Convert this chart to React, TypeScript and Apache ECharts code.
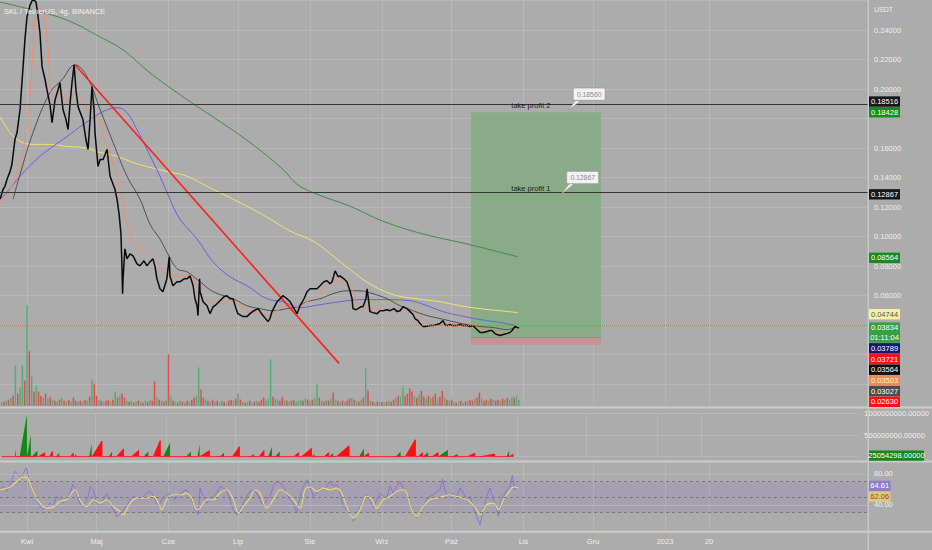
import React, { useEffect, useRef } from "react";
import * as echarts from "echarts";

// ---------- axis / time data (days from 1 Apr 2022) ----------
const dayRange = [-11.64, 362.5];
const monthDays = [0, 30, 61, 91, 122, 153, 183, 214, 244, 275, 294];
const monthLabels = ["Kwi", "Maj", "Cze", "Lip", "Sie", "Wrz", "Paź", "Lis", "Gru", "2023", "20"];
const hiddenPriceLabels = [0.18];

// ---------- price (close) ----------
const closePrice: [number, number][] = [
  [-11.6, 0.1254], [-10.3, 0.1321], [-9.5, 0.1341], [-8.6, 0.1389], [-7.3, 0.1442], [-6.5, 0.149], [-5.2, 0.1658], [-4.3, 0.1705],
  [-3.0, 0.1861], [-1.7, 0.215], [-0.9, 0.2333], [0, 0.2488], [1.3, 0.2569], [2.6, 0.261], [3.9, 0.2589], [4.7, 0.2501],
  [5.6, 0.238], [6.5, 0.215], [7.8, 0.2063], [8.6, 0.1995], [9.9, 0.1894], [10.8, 0.1773], [12.1, 0.1928], [13.4, 0.1995],
  [14.2, 0.2043], [15.5, 0.1861], [16.8, 0.1793], [17.7, 0.1726], [18.5, 0.1894], [19.4, 0.2043], [20.3, 0.2164], [21.1, 0.1995],
  [22.0, 0.1881], [22.8, 0.1847], [24.1, 0.1793], [25.4, 0.1658], [26.3, 0.1591], [27.2, 0.1793], [28.0, 0.2016], [28.9, 0.1861],
  [29.3, 0.1705], [30.6, 0.1476], [31.5, 0.1523], [32.8, 0.1523], [34.5, 0.1591], [35.8, 0.1409], [37.1, 0.1355], [37.9, 0.1321],
  [38.8, 0.1254], [39.7, 0.1152], [40.5, 0.1018], [40.9, 0.0815], [41.2, 0.0613], [41.4, 0.0714], [42.2, 0.0917], [43.1, 0.0849],
  [44.4, 0.0883], [45.7, 0.0869], [47.4, 0.0815], [48.7, 0.0802], [50.4, 0.0836], [51.7, 0.0802], [53.0, 0.0829], [54.3, 0.0849],
  [55.2, 0.0795], [56.0, 0.0714], [57.3, 0.0647], [58.6, 0.0627], [60.3, 0.0714], [61.3, 0.0863], [61.6, 0.0734], [62.9, 0.0667],
  [64.7, 0.0694], [65.9, 0.0694], [67.7, 0.0714], [69.0, 0.0714], [70.3, 0.0734], [71.6, 0.0667], [72.4, 0.0579], [73.3, 0.0532],
  [73.7, 0.0465], [74.4, 0.0714], [74.6, 0.0627], [75.9, 0.0559], [77.6, 0.0532], [78.9, 0.0478], [80.2, 0.0525], [81.0, 0.0532],
  [83.2, 0.0566], [84.9, 0.0593], [86.2, 0.06], [87.5, 0.0579], [88.8, 0.0579], [90.1, 0.0512], [90.9, 0.0478], [93.1, 0.0458],
  [94.8, 0.0458], [96.1, 0.0478], [97.8, 0.0498], [99.6, 0.0512], [101.7, 0.0465], [103.9, 0.0424], [104.7, 0.0445], [105.6, 0.0492],
  [107.8, 0.0559], [109.1, 0.0579], [110.3, 0.06], [112.1, 0.0579], [113.4, 0.0559], [115.1, 0.0512], [116.4, 0.0478], [117.7, 0.0532],
  [119.4, 0.0579], [120.7, 0.0627], [122.0, 0.0647], [123.3, 0.0647], [125.0, 0.0647], [126.3, 0.0667], [128.0, 0.0694], [129.3, 0.0701],
  [130.6, 0.0681], [131.5, 0.0694], [132.8, 0.0768], [134.1, 0.0728], [134.9, 0.0734], [136.6, 0.0714], [137.9, 0.0694], [139.2, 0.0633],
  [140.1, 0.0579], [140.5, 0.0512], [141.8, 0.0505], [142.7, 0.0512], [144.0, 0.0525], [144.8, 0.0525], [146.1, 0.0579], [146.6, 0.0647],
  [147.4, 0.0546], [147.8, 0.0492], [149.1, 0.0485], [150.9, 0.0478], [152.2, 0.0498], [153.4, 0.0498], [155.2, 0.0505], [156.5, 0.0498],
  [158.2, 0.0512], [159.5, 0.0492], [160.8, 0.0498], [162.1, 0.0525], [163.8, 0.0512], [165.1, 0.0492], [166.4, 0.0472], [167.2, 0.0445],
  [168.5, 0.0431], [169.4, 0.0411], [170.7, 0.0391], [171.6, 0.0391], [173.7, 0.0397], [175.0, 0.0397], [176.7, 0.0404], [178.0, 0.0411],
  [179.3, 0.0431], [180.2, 0.0404], [181.0, 0.0397], [182.3, 0.0404], [183.6, 0.0397], [185.3, 0.0397], [186.6, 0.0404], [187.9, 0.0397],
  [189.7, 0.0397], [190.9, 0.0391], [192.2, 0.0397], [193.5, 0.0377], [195.3, 0.035], [196.6, 0.035], [198.3, 0.0357], [199.6, 0.0364],
  [200.4, 0.0364], [201.7, 0.0343], [202.6, 0.0337], [203.9, 0.033], [205.2, 0.0337], [206.9, 0.0343], [208.2, 0.035], [209.1, 0.0364],
  [210.3, 0.0391], [211.2, 0.0384], [212.1, 0.0383],
];

// ---------- moving averages ----------
const emaOrange: [number, number][] = [
  [-11.6, 0.124], [-9.5, 0.1254], [-7.3, 0.1321], [-3.0, 0.1476], [0, 0.1746], [2.2, 0.215], [3.4, 0.2467], [5.6, 0.2555],
  [7.8, 0.2467], [9.1, 0.2265], [9.9, 0.2043], [11.2, 0.1948], [14.2, 0.1975], [17.2, 0.1928], [19.4, 0.1948], [21.6, 0.1975],
  [23.7, 0.1928], [25.9, 0.1881], [28.0, 0.1793], [30.2, 0.1813], [32.3, 0.1726], [34.5, 0.1611], [36.6, 0.1523], [38.8, 0.1409],
  [40.9, 0.1254], [43.1, 0.1085], [45.7, 0.0964], [48.7, 0.0917], [51.7, 0.0896], [56.0, 0.0829], [58.6, 0.0761], [61.6, 0.0734],
  [67.2, 0.0734], [70.3, 0.0734], [73.3, 0.0667], [75.9, 0.0593], [80.2, 0.0546], [84.5, 0.0546], [88.8, 0.0566], [91.8, 0.0532],
  [96.1, 0.0492], [100.4, 0.0478], [104.7, 0.0465], [107.8, 0.0498], [112.1, 0.0532], [116.4, 0.0525], [120.7, 0.0559], [126.3, 0.0627],
  [131.9, 0.0694], [136.2, 0.0701], [140.5, 0.0627], [143.5, 0.0532], [149.1, 0.0512], [155.2, 0.0498], [160.8, 0.0505], [166.4, 0.0492],
  [170.7, 0.0445], [175.0, 0.0397], [181.0, 0.0397], [186.6, 0.0391], [192.2, 0.0391], [196.6, 0.0364], [202.6, 0.035], [206.9, 0.0343],
  [211.2, 0.0377],
];
const maGray: [number, number][] = [
  [-6.0, 0.1254], [-3.0, 0.1422], [2.6, 0.1705], [9.9, 0.1975], [15.1, 0.2063], [20.7, 0.2164], [25.9, 0.2083], [31.5, 0.1861],
  [37.1, 0.1638], [43.1, 0.1409], [48.7, 0.1254], [53.0, 0.1085], [57.3, 0.0984], [60.3, 0.0896], [64.7, 0.0782], [69.0, 0.0761],
  [74.6, 0.0694], [80.2, 0.0627], [88.8, 0.0579], [94.8, 0.0532], [100.4, 0.0512], [106.0, 0.0498], [112.1, 0.0512], [116.4, 0.0525],
  [120.7, 0.0559], [126.3, 0.0579], [131.9, 0.0613], [137.9, 0.0633], [143.5, 0.0633], [149.1, 0.0613], [155.2, 0.0579], [160.8, 0.0532],
  [166.4, 0.0498], [172.4, 0.0465], [178.0, 0.0445], [183.6, 0.0424], [189.7, 0.0404], [195.3, 0.0391], [200.9, 0.0384], [206.9, 0.037],
  [211.2, 0.0391],
];
const maPurple: [number, number][] = [
  [-11.6, 0.1254], [-8.6, 0.1301], [-3.0, 0.1409], [5.6, 0.1544], [17.2, 0.1678], [27.2, 0.1793], [32.8, 0.1847], [38.8, 0.1874],
  [43.1, 0.184], [47.4, 0.1726], [51.7, 0.1591], [57.3, 0.1409], [61.6, 0.1254], [65.9, 0.1119], [73.3, 0.0984], [80.2, 0.0829],
  [87.5, 0.0728], [94.8, 0.0667], [103.4, 0.0579], [110.3, 0.0559], [117.7, 0.0519], [126.3, 0.0539], [134.9, 0.0559], [143.5, 0.0573],
  [153.4, 0.0573], [165.1, 0.0566], [172.4, 0.0532], [179.3, 0.0492], [186.6, 0.0465], [195.3, 0.0438], [203.9, 0.0418], [211.2, 0.0397],
];
const maYellow: [number, number][] = [
  [-11.6, 0.1813], [-7.3, 0.1705], [-3.0, 0.1645], [2.6, 0.1625], [9.9, 0.1625], [17.2, 0.1611], [24.1, 0.1604], [31.5, 0.1571],
  [38.8, 0.1544], [45.7, 0.1503], [53.0, 0.1469], [60.3, 0.1442], [69.0, 0.1409], [77.6, 0.1341], [86.2, 0.1274], [94.8, 0.1206],
  [103.4, 0.1132], [113.4, 0.1038], [123.3, 0.097], [131.9, 0.0869], [140.5, 0.0761], [149.1, 0.0667], [159.5, 0.06], [168.1, 0.0579],
  [178.0, 0.0559], [186.6, 0.0532], [195.3, 0.0512], [203.9, 0.0498], [211.6, 0.0485],
];
const maGreen: [number, number][] = [
  [-11.6, 0.2589], [2.6, 0.2535], [17.2, 0.2467], [31.5, 0.2353], [41.4, 0.2265], [53.0, 0.211], [67.2, 0.1948], [81.9, 0.1793],
  [96.1, 0.1638], [110.3, 0.1456], [116.4, 0.1355], [125.0, 0.1287], [139.2, 0.1206], [153.4, 0.1105], [170.7, 0.1018], [189.7, 0.095],
  [211.6, 0.0863],
];
const trendLine: [number, number][] = [[20.7, 0.2164], [134.5, 0.0141]];

// ---------- drawings ----------
const takeProfit2 = 0.18516;
const takeProfit1 = 0.12867;
const lastPrice = 0.03834;
const positionStart = 191.4;
const positionEnd = 247.4;
const entryPrice = 0.0315;
const stopPrice = 0.0268;
const targetPrice = 0.18428;
const takeProfitNames = ["take profit 2", "take profit 1"];
const takeProfitLabelDay = 217.2;
const callouts: [number, number, number][] = [[233.0, 0.18516, 0.1856], [230.2, 0.12867, 0.12867]];

// ---------- volume (one bar per day from volumeStartDay) ----------
const volumeStartDay = -11;
const volumeValues = [
  3, 4, 5, 6, 8, 10, 40, 12, 18, 40,
  25, 100, 54, 30, 14, 20, 14, 10, 8, 12,
  7, 9, 6, 5, 4, 6, 8, 5, 4, 6,
  4, 8, 5, 4, 5, 4, 6, 5, 9, 26,
  22, 10, 6, 5, 4, 5, 6, 4, 6, 14,
  8, 10, 12, 8, 5, 4, 5, 3, 4, 5,
  4, 3, 5, 4, 6, 5, 24, 8, 6, 5,
  4, 6, 51, 9, 5, 4, 3, 5, 4, 3,
  5, 4, 6, 8, 10, 38, 16, 8, 6, 5,
  4, 6, 4, 5, 3, 5, 4, 3, 5, 6,
  5, 7, 12, 6, 4, 3, 4, 5, 3, 4,
  5, 4, 6, 8, 5, 7, 46, 9, 7, 6,
  5, 9, 6, 5, 4, 5, 6, 4, 5, 6,
  5, 7, 6, 5, 6, 8, 22, 8, 5, 4,
  6, 5, 7, 13, 6, 5, 4, 5, 4, 5,
  7, 8, 6, 5, 4, 6, 8, 37, 15, 5,
  4, 3, 4, 3, 4, 3, 4, 5, 4, 6,
  8, 10, 9, 18, 10, 12, 17, 14, 10, 8,
  11, 15, 9, 7, 10, 8, 9, 12, 7, 9,
  15, 8, 6, 5, 6, 4, 3, 4, 5, 3,
  4, 5, 6, 5, 7, 8, 13, 7, 5, 6,
  5, 7, 6, 5, 6, 5, 7, 6, 8, 6,
  9, 8, 10, 6,
];
const volumeSides =
  "grgrgrgrgg" + "rgrgrgrrgr" + "grgrgrgrgr" + "grrgrgrgrg" + "rrgrgrrgrg" + "rgrrgrgrgr" +
  "grgrgrrgrg" + "rgrgrgrgrg" + "rgrrggrrgr" + "grgrggrgrr" + "grgrgrgrgr" + "grrrgggrgg" +
  "rrgrgrrggg" + "rgrgrggrgr" + "grgrgrgrgr" + "rgrgrgrgrg" + "rgrgrgrgrr" + "grggrrrrgr" +
  "grrgrgrrgr" + "rgrgrgrgrg" + "rgrrgrrgrr" + "grgrrgrgrg" + "grgg";

// ---------- second pane: ramps [startDay, endDay, peak] ----------
const greenRamps: [number, number, number][] = [
  [-5.2, -4.7, 1.8e8], [-3.1, 0.1, 9.8e8], [0.3, 1.8, 5.0e8], [2.2, 4.7, 1.4e8], [12.8, 14.2, 0.9e8], [20.7, 21.6, 0.6e8],
  [27.2, 28.3, 2.9e8], [35.8, 37.2, 1.2e8], [50.9, 53.0, 1.2e8], [59.5, 62.5, 3.3e8], [69.4, 71.6, 1.2e8], [74.4, 75.4, 2.8e8],
  [84.0, 86.0, 0.9e8], [97.4, 99.0, 0.7e8], [105.2, 106.9, 2.3e8], [108.2, 110.3, 1.2e8], [124.1, 125.4, 0.7e8], [131.6, 133.6, 0.8e8],
  [144.8, 147.0, 1.9e8], [160.8, 163.0, 1.2e8], [172.5, 175.0, 1.0e8], [179.3, 183.6, 1.6e8], [185.3, 187.9, 0.6e8], [209.1, 210.3, 1.4e8],
];
const redRamps: [number, number, number][] = [
  [5.2, 7.8, 0.9e8], [10.0, 11.2, 1.2e8], [19.0, 20.3, 0.8e8], [28.5, 32.8, 3.6e8], [39.2, 42.2, 1.8e8], [45.7, 48.7, 1.4e8],
  [55.2, 58.2, 3.7e8], [75.4, 79.7, 1.4e8], [89.7, 92.7, 2.3e8], [101.3, 103.4, 1.4e8], [116.4, 118.5, 0.9e8], [119.8, 124.1, 1.9e8],
  [129.6, 131.6, 0.9e8], [135.0, 140.5, 2.5e8], [147.0, 149.0, 0.8e8], [165.0, 169.4, 3.9e8], [170.7, 172.5, 0.9e8], [176.7, 179.3, 0.9e8],
  [192.2, 195.3, 0.8e8], [198.0, 203.9, 0.6e8], [210.3, 212.0, 0.5e8],
];
const oscLastValue = 25054298;

// ---------- RSI ----------
const rsiLine: [number, number][] = [
  [-11.6, 59.7], [-10.2, 64.0], [-8.8, 57.5], [-7.3, 66.1], [-5.2, 83.3], [-3.7, 79.0], [-2.3, 72.6], [-0.9, 85.5], [-0.1, 87.7],
  [0.6, 74.7], [2.0, 64.0], [3.4, 51.1], [4.9, 46.8], [5.6, 38.1], [7.0, 33.9], [8.5, 38.1], [9.9, 42.5], [11.3, 38.1], [12.8, 51.1],
  [14.2, 46.8], [15.7, 42.5], [17.1, 46.8], [18.5, 55.4], [19.7, 66.1], [20.7, 61.9], [22.1, 46.8], [23.6, 38.1], [25.0, 42.5],
  [26.4, 51.1], [27.2, 64.0], [28.6, 59.7], [30.0, 42.5], [31.5, 38.1], [32.9, 46.8], [34.4, 55.4], [35.8, 42.5], [37.2, 33.9],
  [38.7, 25.2], [40.1, 27.4], [41.5, 33.9], [43.0, 38.1], [44.4, 46.8], [45.8, 51.1], [47.3, 48.9], [48.7, 46.8], [50.1, 51.1],
  [52.3, 57.5], [53.7, 55.4], [55.2, 46.8], [56.6, 38.1], [58.1, 46.8], [59.5, 51.1], [60.9, 55.4], [62.4, 51.1], [63.8, 46.8],
  [65.2, 53.2], [66.7, 55.4], [68.1, 59.7], [69.5, 57.5], [71.0, 46.8], [72.4, 33.9], [73.8, 27.4], [74.6, 61.9], [76.0, 51.1],
  [77.5, 42.5], [78.9, 46.8], [80.3, 51.1], [81.8, 55.4], [83.2, 64.0], [84.6, 61.9], [86.1, 57.5], [87.5, 46.8], [88.9, 33.9],
  [90.4, 27.4], [91.8, 33.9], [93.2, 42.5], [94.7, 51.1], [96.1, 57.5], [97.5, 59.7], [99.0, 55.4], [100.4, 46.8], [101.9, 38.1],
  [103.3, 46.8], [104.7, 51.1], [106.2, 64.0], [107.6, 70.4], [109.1, 68.3], [110.5, 64.0], [111.9, 55.4], [113.4, 46.8], [114.8, 42.5],
  [116.2, 29.6], [117.7, 51.1], [119.1, 64.0], [120.6, 72.6], [122.0, 64.0], [123.4, 51.1], [124.9, 55.4], [126.3, 61.9], [127.7, 59.7],
  [129.2, 64.0], [130.6, 70.4], [132.0, 64.0], [133.5, 66.1], [134.9, 55.4], [136.3, 38.1], [137.8, 33.9], [139.2, 29.6], [140.7, 18.8],
  [142.1, 27.4], [143.5, 38.1], [145.0, 46.8], [146.4, 53.2], [147.8, 46.8], [149.3, 36.0], [150.7, 46.8], [152.2, 55.4], [153.6, 51.1],
  [155.0, 48.9], [156.5, 64.0], [157.9, 55.4], [159.4, 64.0], [160.8, 70.4], [162.2, 61.9], [163.7, 55.4], [165.1, 42.5], [166.5, 27.4],
  [168.0, 23.1], [169.4, 29.6], [170.8, 38.1], [172.3, 46.8], [173.7, 51.1], [175.1, 53.2], [176.6, 57.5], [178.0, 59.7], [179.2, 73.4],
  [180.2, 57.5], [181.6, 51.1], [183.1, 55.4], [185.2, 51.1], [186.6, 61.9], [188.1, 55.4], [189.5, 46.8], [190.9, 51.1], [192.4, 38.1],
  [193.8, 25.2], [195.3, 14.5], [196.7, 33.9], [198.1, 51.1], [199.6, 61.9], [201.0, 46.8], [202.5, 33.9], [203.2, 25.2], [203.9, 42.5],
  [205.3, 51.1], [206.8, 59.7], [208.2, 64.0], [209.2, 79.0], [210.3, 59.7], [211.8, 64.6],
];
const rsiSignal: [number, number][] = [
  [-11.6, 59.7], [-7.3, 63.2], [-4.4, 70.4], [-1.6, 76.0], [-0.1, 76.0], [1.3, 68.3], [2.7, 57.5], [5.6, 42.5], [8.5, 36.0],
  [11.3, 37.3], [14.2, 44.6], [17.1, 46.8], [19.2, 55.4], [20.7, 59.7], [22.8, 46.8], [25.7, 38.1], [28.6, 46.8], [31.5, 42.5],
  [34.4, 46.8], [37.2, 38.1], [40.1, 31.7], [41.5, 27.4], [44.4, 42.5], [47.3, 48.9], [51.6, 48.9], [54.5, 51.1], [56.6, 42.5],
  [58.1, 33.9], [60.2, 46.8], [63.1, 53.2], [66.7, 53.2], [68.8, 55.4], [71.0, 48.9], [73.1, 33.9], [74.6, 36.0], [77.5, 46.8],
  [80.3, 46.8], [83.2, 55.4], [86.1, 59.7], [88.9, 46.8], [91.1, 29.6], [93.2, 38.1], [96.1, 48.9], [98.3, 59.7], [100.4, 55.4],
  [103.3, 36.0], [106.2, 46.8], [109.1, 59.7], [111.9, 55.4], [114.8, 46.8], [117.7, 36.0], [119.8, 59.7], [122.0, 63.2], [124.9, 57.5],
  [127.7, 61.9], [130.6, 59.7], [133.5, 61.9], [135.6, 55.4], [137.8, 38.1], [140.7, 23.1], [143.5, 33.9], [146.4, 51.1], [148.6, 46.8],
  [150.7, 36.0], [153.6, 46.8], [156.5, 51.1], [159.4, 57.5], [162.2, 59.7], [163.7, 55.4], [165.8, 33.9], [168.0, 25.2], [170.8, 38.1],
  [173.7, 46.8], [176.6, 48.9], [179.4, 51.1], [182.3, 53.2], [185.2, 51.1], [188.1, 48.9], [190.9, 44.6], [193.8, 33.9], [195.3, 27.4],
  [198.1, 40.3], [201.0, 42.5], [203.2, 33.9], [205.3, 46.8], [207.5, 55.4], [209.7, 63.2], [211.8, 62.1],
];
const rsiBands = [70, 50, 30];
const rsiGridValues = [40, 80];
const rsiLastValues = [64.61, 62.06];

// ---------- right-axis price tags ----------
const priceTagValues = [0.18428, 0.18516, 0.12867, 0.08564, 0.04744, 0.03834, 0.03789, 0.03721, 0.03564, 0.03503, 0.03027, 0.0263];
const priceCountdown = "01:11:04";

// ---------- styles ----------
const BG = "#acacac";
const GRIDC = "#b8b8b8";
const SEP = "#cbcbcb";
const TXT = "#efefef";
const FONT = "'Liberation Sans', Arial, sans-serif";
const FS = 7.5;
const priceTagColors: [string, string][] = [
  ["#178c1c", "#ffffff"], ["#16181d", "#ffffff"], ["#16181d", "#ffffff"], ["#178c1c", "#ffffff"],
  ["#f6f0a4", "#555555"], ["#37a043", "#ffffff"], ["#17176e", "#ffffff"], ["#ff0f0f", "#ffffff"],
  ["#0d0d0d", "#ffffff"], ["#ec8a5c", "#fff4b4"], ["#4c4c4c", "#ffffff"], ["#ff0f0f", "#ffffff"],
];
const rsiTagColors: [string, string][] = [["#8f7dc7", "#ffffff"], ["#dccb7c", "#b43a2a"]];

function rampSeries(ramps: [number, number, number][], first: number, last: number) {
  const pts: [number, number][] = [[first, 0]];
  [...ramps].sort((a, b) => a[0] - b[0]).forEach(([s, e, v]) => {
    pts.push([s, 0], [e, v], [e, 0]);
  });
  pts.push([last, 0]);
  return pts;
}

function xAxisFor(gridIndex: number, showLabels: boolean) {
  return {
    type: "value",
    gridIndex,
    min: dayRange[0],
    max: dayRange[1],
    axisLine: { show: false },
    axisTick: { show: false, customValues: monthDays },
    splitLine: { show: true, lineStyle: { color: GRIDC, width: 1 } },
    axisLabel: showLabels
      ? {
          show: true,
          customValues: monthDays,
          formatter: (v: number) => {
            const i = monthDays.findIndex((m) => Math.abs(m - v) < 0.01);
            return i >= 0 ? monthLabels[i] : "";
          },
          color: TXT,
          fontSize: FS,
          fontFamily: FONT,
          margin: 6,
        }
      : { show: false },
  };
}

const lineSeries = (name: string, data: [number, number][], color: string, width: number, smooth: number | boolean, extra: any = {}) => ({
  name,
  type: "line",
  xAxisIndex: 0,
  yAxisIndex: 0,
  data,
  showSymbol: false,
  symbol: "none",
  smooth,
  silent: true,
  lineStyle: { color, width },
  z: 2,
  ...extra,
});

export default function App() {
  const ref = useRef<HTMLDivElement>(null);

  useEffect(() => {
    document.body.style.margin = "0";
    document.body.style.background = BG;
    const chart = echarts.init(ref.current!, null, { renderer: "svg" });

    const volumeData = volumeValues.map((v, i) => ({
      value: [volumeStartDay + i, v],
      itemStyle: { color: volumeSides[i] === "g" ? "rgba(70,170,110,0.85)" : "rgba(228,62,62,0.85)" },
    }));
    const firstDay = volumeStartDay;
    const lastDay = volumeStartDay + volumeValues.length - 1;

    const option: any = {
      animation: false,
      backgroundColor: BG,
      grid: [
        { left: 0, right: 64, top: 0.5, height: 383.7 },
        { left: 0, right: 64, top: 305, height: 100.7 },
        { left: 0, right: 64, top: 413.3, height: 43.4 },
        { left: 0, right: 64, top: 462, height: 69 },
      ],
      xAxis: [xAxisFor(0, false), xAxisFor(1, false), xAxisFor(2, false), xAxisFor(3, true)],
      yAxis: [
        {
          type: "value",
          gridIndex: 0,
          position: "right",
          min: 0,
          max: 0.26,
          interval: 0.02,
          axisLine: { show: false },
          axisTick: { show: false },
          splitLine: { show: true, lineStyle: { color: GRIDC, width: 1 } },
          axisLabel: {
            color: TXT,
            fontSize: FS,
            fontFamily: FONT,
            margin: 6,
            formatter: (v: number) =>
              v > 0.059 && v < 0.241 && !hiddenPriceLabels.some((h) => Math.abs(h - v) < 1e-6) ? v.toFixed(5) : "",
          },
        },
        { type: "value", gridIndex: 1, min: 0, max: 100, show: false, splitLine: { show: false } },
        {
          type: "value",
          gridIndex: 2,
          position: "right",
          min: 0,
          max: 1e9,
          interval: 5e8,
          axisLine: { show: false },
          axisTick: { show: false },
          splitLine: { show: true, lineStyle: { color: GRIDC, width: 1 } },
          axisLabel: {
            color: TXT,
            fontSize: FS,
            fontFamily: FONT,
            margin: 6,
            formatter: (v: number) => (v > 0 ? v.toFixed(5) : ""),
          },
        },
        {
          type: "value",
          gridIndex: 3,
          position: "right",
          min: 6.45,
          max: 95.48,
          axisLine: { show: false },
          axisTick: { show: false },
          splitLine: { show: false },
          axisLabel: {
            color: TXT,
            fontSize: FS,
            fontFamily: FONT,
            margin: 6,
            showMinLabel: false,
            showMaxLabel: false,
            formatter: (v: number) => (rsiGridValues.some((g) => Math.abs(g - v) < 0.01) ? v.toFixed(2) : ""),
          },
        },
      ],
      series: [
        lineSeries("MA green", maGreen, "#3f8d48", 1, 0.4, {
          markArea: {
            silent: true,
            data: [
              [{ coord: [positionStart, entryPrice], itemStyle: { color: "#8aab88" } }, { coord: [positionEnd, targetPrice] }],
              [{ coord: [positionStart, stopPrice], itemStyle: { color: "#c89292" } }, { coord: [positionEnd, entryPrice] }],
            ],
          },
          markLine: {
            silent: true,
            symbol: ["none", "none"],
            label: { show: false },
            data: [[{ coord: [positionStart, entryPrice], lineStyle: { color: "#8e8e8e", width: 1.2, type: "solid" } }, { coord: [positionEnd, entryPrice] }]],
          },
        }),
        lineSeries("MA yellow", maYellow, "#f3e272", 1, 0.4),
        lineSeries("MA purple", maPurple, "#6c5fdc", 1, 0.4),
        lineSeries("MA gray", maGray, "#505050", 1, 0.4),
        lineSeries("EMA orange", emaOrange, "#f58b6c", 1, 0.3),
        lineSeries("Trend", trendLine, "#ff1f1f", 1.6, false),
        lineSeries("Price", closePrice, "#0b0b0b", 1.5, false, {
          z: 3,
          markLine: {
            silent: true,
            symbol: ["none", "none"],
            label: { show: false },
            data: [
              { yAxis: takeProfit2, lineStyle: { color: "#353535", width: 1.1, type: "solid" } },
              { yAxis: takeProfit1, lineStyle: { color: "#353535", width: 1.1, type: "solid" } },
              { yAxis: lastPrice, lineStyle: { color: "#4fae55", width: 1, type: "dotted" } },
            ],
          },
        }),
        {
          name: "Volume",
          type: "bar",
          xAxisIndex: 1,
          yAxisIndex: 1,
          barWidth: 1.5,
          silent: true,
          data: volumeData,
          z: 1,
        },
        {
          name: "Osc red",
          type: "line",
          xAxisIndex: 2,
          yAxisIndex: 2,
          data: rampSeries(redRamps, firstDay, lastDay),
          showSymbol: false,
          symbol: "none",
          silent: true,
          lineStyle: { color: "#ff1010", width: 1 },
          areaStyle: { color: "#ff1010", opacity: 1 },
        },
        {
          name: "Osc green",
          type: "line",
          xAxisIndex: 2,
          yAxisIndex: 2,
          data: rampSeries(greenRamps, firstDay, lastDay),
          showSymbol: false,
          symbol: "none",
          silent: true,
          lineStyle: { color: "#118a14", width: 0, opacity: 0 },
          areaStyle: { color: "#118a14", opacity: 1 },
        },
        {
          name: "RSI",
          type: "line",
          xAxisIndex: 3,
          yAxisIndex: 3,
          data: rsiLine,
          showSymbol: false,
          symbol: "none",
          silent: true,
          lineStyle: { color: "#8a72d6", width: 1 },
          markArea: {
            silent: true,
            itemStyle: { color: "rgba(122,92,205,0.14)" },
            data: [[{ yAxis: rsiBands[2] }, { yAxis: rsiBands[0] }]],
          },
          markLine: {
            silent: true,
            symbol: ["none", "none"],
            label: { show: false },
            data: [
              ...rsiGridValues.map((g) => ({ yAxis: g, lineStyle: { color: GRIDC, width: 1, type: "solid" } })),
              ...rsiBands.map((b) => ({ yAxis: b, lineStyle: { color: "#7a7a7a", width: 1, type: [3, 3] } })),
            ],
          },
        },
        {
          name: "RSI MA",
          type: "line",
          xAxisIndex: 3,
          yAxisIndex: 3,
          data: rsiSignal,
          showSymbol: false,
          symbol: "none",
          smooth: 0.35,
          silent: true,
          lineStyle: { color: "#ecd76a", width: 1.2 },
        },
      ],
    };

    chart.setOption(option);

    const yPix = (axis: number, v: number) => chart.convertToPixel({ yAxisIndex: axis } as any, v) as unknown as number;
    const ptPix = (grid: number, d: number, v: number) => chart.convertToPixel({ gridIndex: grid } as any, [d, v]) as unknown as number[];
    const font = (s: number) => `${s}px ${FONT}`;
    const txt = (x: number, y: number, text: string, fill: string, size = FS, align = "center") => ({
      type: "text",
      x,
      y,
      z: 120,
      silent: true,
      style: { text, fill, font: font(size), align, verticalAlign: "middle", textAlign: align, textVerticalAlign: "middle" },
    });

    const lineH = 10.4;
    const gap = 0.3;
    function layout(values: number[], axis: number, twoLine: number) {
      const placed: { v: number; top: number; bottom: number; i: number }[] = [];
      values.forEach((v, i) => {
        const c = yPix(axis, v);
        const h = i === twoLine ? lineH * 2 - 0.4 : lineH;
        let top = c - lineH / 2;
        let bottom = top + h;
        for (let pass = 0; pass < 3; pass++) {
          for (const p of placed) {
            if (top < p.bottom + gap && bottom > p.top - gap) {
              if (v > p.v) {
                bottom = p.top - gap;
                top = bottom - h;
              } else {
                top = p.bottom + gap;
                bottom = top + h;
              }
            }
          }
        }
        placed.push({ v, top, bottom, i });
      });
      return placed;
    }

    const graphics: any[] = [];
    // separators
    [406.6, 460.6, 530.8].forEach((y) =>
      graphics.push({ type: "rect", z: 110, silent: true, shape: { x: 0, y, width: 932, height: 2 }, style: { fill: SEP } })
    );
    graphics.push({ type: "rect", z: 110, silent: true, shape: { x: 867.6, y: 0, width: 1.3, height: 550 }, style: { fill: SEP } });

    // title & currency
    graphics.push(txt(4, 11, "SKL / TetherUS, 4g, BINANCE", "#f2f2f2", FS, "left"));
    graphics.push(txt(874, 9, "USDT", TXT, 7, "left"));

    // price tags
    layout(priceTagValues, 0, 5).forEach((p) => {
      const [bg, fg] = priceTagColors[p.i];
      graphics.push({ type: "rect", z: 115, silent: true, shape: { x: 869, y: p.top, width: 31, height: p.bottom - p.top }, style: { fill: bg } });
      graphics.push(txt(884.5, p.top + lineH / 2, p.v.toFixed(5), fg));
      if (p.i === 5) graphics.push(txt(884.5, p.top + lineH * 1.5 - 0.6, priceCountdown, fg));
    });

    // oscillator tag
    {
      const c = yPix(2, oscLastValue);
      graphics.push({ type: "rect", z: 115, silent: true, shape: { x: 869, y: c - 5.2, width: 55, height: 10.4 }, style: { fill: "#138a17" } });
      graphics.push(txt(896.5, c, oscLastValue.toFixed(5), "#ffffff"));
    }

    // RSI tags
    layout(rsiLastValues, 3, -1).forEach((p) => {
      const [bg, fg] = rsiTagColors[p.i];
      graphics.push({ type: "rect", z: 115, silent: true, shape: { x: 869, y: p.top, width: 21.5, height: p.bottom - p.top }, style: { fill: bg } });
      graphics.push(txt(879.7, p.top + lineH / 2, p.v.toFixed(2), fg));
    });

    // take profit labels
    [takeProfit2, takeProfit1].forEach((v, i) => {
      const [x, y] = ptPix(0, takeProfitLabelDay, v);
      graphics.push(txt(x, y - 5.4, takeProfitNames[i], "#1c1c1c"));
    });

    // callouts
    callouts.forEach(([d, lineV, labelV]) => {
      const [tx, ty] = ptPix(0, d, lineV);
      const bw = 32;
      const bh = 12.4;
      const bx = tx + 5.6;
      const by = ty - 10.6 - bh;
      graphics.push({
        type: "polygon",
        z: 116,
        silent: true,
        shape: { points: [[tx, ty], [bx + 2.5, by + bh], [bx + 8, by + bh]] },
        style: { fill: "#f2f2f2", stroke: "#9a9a9a", lineWidth: 0.8 },
      });
      graphics.push({
        type: "rect",
        z: 117,
        silent: true,
        shape: { x: bx, y: by, width: bw, height: bh, r: 1.5 },
        style: { fill: "#f2f2f2", stroke: "#9a9a9a", lineWidth: 0.8 },
      });
      graphics.push({ ...txt(bx + bw / 2, by + bh / 2, labelV.toFixed(5), "#8a8a8a", 6.8), z: 118 });
    });

    chart.setOption({ graphic: graphics });

    return () => chart.dispose();
  }, []);

  return <div ref={ref} style={{ width: 932, height: 550 }} />;
}
